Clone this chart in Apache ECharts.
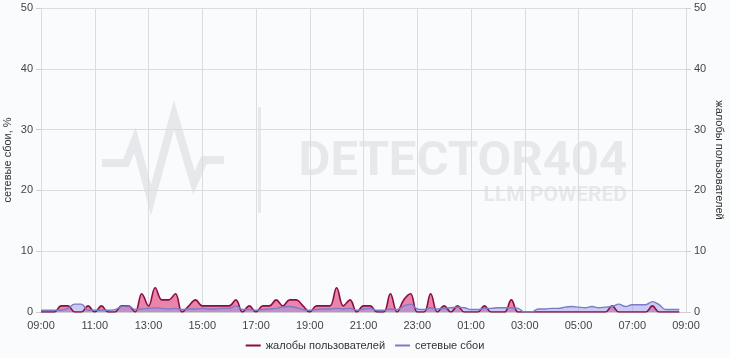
<!DOCTYPE html>
<html>
<head>
<meta charset="utf-8">
<script src="https://cdn.jsdelivr.net/npm/echarts@6/dist/echarts.min.js"></script>
<style>html,body{margin:0;padding:0;background:#fafbfc;}#c{width:730px;height:358px;}</style>
</head>
<body>
<div id="c"></div>
<script>
// 15-minute slots from 09:00 to 09:00 next day
var times = [];
for (var k = 0; k <= 96; k++) {
  var m = 9 * 60 + k * 15;
  var h = Math.floor(m / 60) % 24, mm = m % 60;
  times.push((h < 10 ? '0' : '') + h + ':' + (mm < 10 ? '0' : '') + mm);
}

var complaints = [
  0,0,0,1,1,0,0,1,0,1,0,0,1,1,0,3,1,4,2,2,3,0,1,2,
  1,1,1,1,1,2,0,1,0,1,1,2,1,2,2,1,0,1,1,1,4,1,2,0,
  1,1,0,0,3,0,2,3,0,0,3,0,1,0,1,0,0,0,1,0,0,0,2,0,
  0,0,0,0,0,0,0,0,0,0,0,0,0,1,0,0,0,0,0,1,0,0,0,0
];

var network = [
  0.3,0.3,0.3,0.3,0.6,1.3,1.3,0.3,0.3,0.3,0.3,0.4,0.9,1.0,0.4,0.5,0.6,0.7,0.6,0.5,0.6,0.4,0.5,0.5,
  0.6,0.5,0.5,0.6,0.6,1.0,0.4,0.4,0.3,0.4,0.5,0.6,0.8,0.9,0.7,0.4,0.3,0.4,0.5,0.5,0.6,0.5,0.6,0.3,
  0.5,0.6,0.3,0.3,0.5,0.4,1.0,1.3,0.5,0.4,0.7,0.5,0.6,0.7,0.8,0.7,0.4,0.4,0.6,0.6,0.7,0.7,0.7,0.6,
  0,0,0.5,0.5,0.6,0.6,0.8,0.9,0.8,0.7,0.9,0.7,0.8,0.9,1.3,0.9,1.2,1.2,1.2,1.7,1.2,0.4,0.4,0.4
];

var yTicks = { min: 0, max: 50, interval: 10 };
var seriesNames = ['жалобы пользователей', 'сетевые сбои'];

var font = 'Liberation Sans, Arial, sans-serif';
var chart = echarts.init(document.getElementById('c'), null, { renderer: 'canvas' });
var wm = '#e6e8eb';
chart.setOption({
  backgroundColor: '#fafbfc',
  animation: false,
  textStyle: { fontFamily: font },
  grid: { left: 41, right: 44, top: 8, bottom: 46, containLabel: false, outerBoundsMode: 'none' },
  legend: {
    bottom: 2, left: 'center',
    icon: 'rect', itemWidth: 15, itemHeight: 2, itemGap: 10,
    textStyle: { fontSize: 11, color: '#333', fontFamily: font },
    data: seriesNames
  },
  graphic: [
    { type: 'polyline', z: -10, silent: true,
      shape: { points: [[102,163],[126,163],[135,140],[151,200],[174,115],[194,183],[204,160],[224,160]] },
      style: { stroke: wm, lineWidth: 8, fill: null, lineJoin: 'miter' } },
    { type: 'rect', z: -10, silent: true, shape: { x: 258, y: 107, width: 3, height: 106 }, style: { fill: wm } },
    { type: 'text', z: -10, silent: true, x: 627, y: 163,
      style: { text: 'DETECTOR404', fill: wm, font: 'bold 49px Roboto, sans-serif', textAlign: 'right', textVerticalAlign: 'middle' } },
    { type: 'text', z: -10, silent: true, x: 627, y: 196,
      style: { text: 'LLM POWERED', fill: wm, font: 'bold 21px Roboto, sans-serif', textAlign: 'right', textVerticalAlign: 'middle' } }
  ],
  xAxis: {
    type: 'category', data: times, boundaryGap: false,
    axisLine: { show: true, lineStyle: { color: '#cfcfcf' } },
    axisTick: { show: false },
    axisLabel: { interval: 7, color: '#444', fontSize: 11, margin: 8 },
    splitLine: { show: true, interval: 7, lineStyle: { color: '#dcdcdc' } }
  },
  yAxis: [
    { type: 'value', min: yTicks.min, max: yTicks.max, interval: yTicks.interval, position: 'left',
      name: 'сетевые сбои, %', nameLocation: 'middle', nameGap: 28, nameMoveOverlap: false,
      nameTextStyle: { color: '#333', fontSize: 11 },
      axisLine: { show: false }, axisTick: { show: true, length: 5, lineStyle: { color: '#cfcfcf' } },
      axisLabel: { color: '#444', fontSize: 11, margin: 8 },
      splitLine: { show: true, lineStyle: { color: '#dcdcdc' } } },
    { type: 'value', min: yTicks.min, max: yTicks.max, interval: yTicks.interval, position: 'right',
      name: 'жалобы пользователей', nameLocation: 'middle', nameGap: 28, nameRotate: -90, nameMoveOverlap: false,
      nameTextStyle: { color: '#333', fontSize: 11 },
      axisLine: { show: false }, axisTick: { show: true, length: 5, lineStyle: { color: '#cfcfcf' } },
      axisLabel: { color: '#444', fontSize: 11, margin: 8 },
      splitLine: { show: false } }
  ],
  series: [
    { name: seriesNames[0], type: 'line', yAxisIndex: 1, data: complaints, smooth: 0.4,
      showSymbol: false, symbol: 'none', color: '#8c0c45',
      lineStyle: { color: '#8c0c45', width: 1.6 },
      areaStyle: { color: '#e0457f', opacity: 0.65 } },
    { name: seriesNames[1], type: 'line', yAxisIndex: 0, data: network, smooth: 0.4,
      showSymbol: false, symbol: 'none', color: '#7c7cc6',
      lineStyle: { color: '#7c7cc6', width: 1.4 },
      areaStyle: { color: '#9a9aec', opacity: 0.5 } }
  ]
});
</script>
</body>
</html>
